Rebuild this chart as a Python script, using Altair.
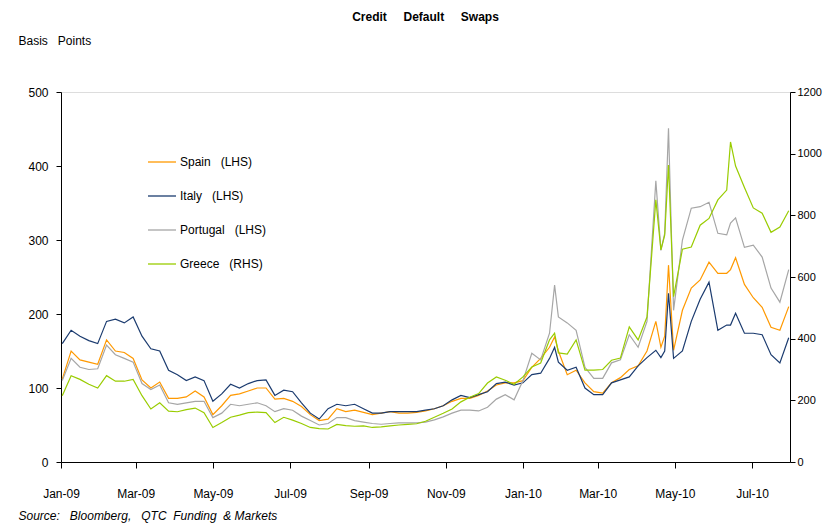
import altair as alt
import pandas as pd

FONT = "Liberation Sans Narrow, Arial Narrow, Liberation Sans, Arial, sans-serif"
NB = "\u00a0"

dates = [
    "2009-01-02", "2009-01-09", "2009-01-16", "2009-01-23", "2009-01-30",
    "2009-02-06", "2009-02-13", "2009-02-20", "2009-02-27",
    "2009-03-06", "2009-03-13", "2009-03-20", "2009-03-27",
    "2009-04-03", "2009-04-10", "2009-04-17", "2009-04-24",
    "2009-05-01", "2009-05-08", "2009-05-15", "2009-05-22", "2009-05-29",
    "2009-06-05", "2009-06-12", "2009-06-19", "2009-06-26",
    "2009-07-03", "2009-07-10", "2009-07-17", "2009-07-24", "2009-07-31",
    "2009-08-07", "2009-08-14", "2009-08-21", "2009-08-28",
    "2009-09-04", "2009-09-11", "2009-09-18", "2009-09-25",
    "2009-10-02", "2009-10-09", "2009-10-16", "2009-10-23", "2009-10-30",
    "2009-11-06", "2009-11-13", "2009-11-20", "2009-11-27",
    "2009-12-04", "2009-12-11", "2009-12-18", "2009-12-25",
    "2010-01-01", "2010-01-08", "2010-01-15", "2010-01-22", "2010-01-26", "2010-01-29",
    "2010-02-05", "2010-02-12", "2010-02-19", "2010-02-26",
    "2010-03-05", "2010-03-12", "2010-03-19", "2010-03-26",
    "2010-04-02", "2010-04-09", "2010-04-16", "2010-04-20", "2010-04-23", "2010-04-26", "2010-04-30",
    "2010-05-07", "2010-05-14", "2010-05-21", "2010-05-28",
    "2010-06-04", "2010-06-11", "2010-06-14", "2010-06-18", "2010-06-25",
    "2010-07-02", "2010-07-09", "2010-07-16", "2010-07-23", "2010-07-30",
]

spain = [
    112, 150, 138, 135, 132, 165, 150, 148, 140,
    111, 100, 108, 86, 86, 88, 96, 88,
    64, 76, 90, 92, 96, 100, 100, 85, 86,
    82, 75, 64, 56, 58, 72, 68, 70, 67,
    64, 66, 68, 66, 66, 67, 69, 72, 76,
    82, 86, 86, 90, 96, 104, 107, 107,
    110, 128, 140, 155, 169, 150,
    118, 124, 107, 95, 93, 107, 114, 125,
    130, 150, 190, 155, 170, 266, 151,
    205, 235, 246, 270, 255, 255, 260, 276, 240,
    222, 209, 182, 178, 210,
]

italy = [
    160, 178, 170, 164, 160, 190, 193, 188, 196,
    170, 153, 150, 124, 118, 110, 115, 110,
    82, 92, 105, 100, 106, 110, 111, 90, 97,
    95, 80, 66, 58, 72, 78, 76, 78, 72,
    66, 66, 68, 68, 68, 68, 70, 72, 76,
    84, 90, 87, 91, 95, 106, 108, 104,
    107, 118, 120, 140, 155, 135,
    124, 128, 100, 91, 91, 107, 111, 115,
    130, 141, 151, 141, 150, 228, 140,
    150, 190, 220, 243, 178, 185, 185, 201, 174,
    174, 172, 145, 134, 168,
]

portugal = [
    110, 140, 128, 125, 126, 158, 145, 140, 135,
    106, 98, 104, 80, 78, 80, 82, 82,
    60, 66, 78, 76, 78, 80, 76, 68, 72,
    70, 62, 56, 50, 52, 60, 60, 56, 54,
    52, 51, 52, 53, 53, 53, 54, 57, 61,
    66, 70, 70, 69, 74, 85, 91, 84,
    110, 147, 138, 174, 239, 196,
    188, 178, 128, 113, 113, 134, 138, 172,
    155, 190, 380, 286, 309, 451, 205,
    300, 343, 345, 351, 309, 307, 323, 330, 290,
    293, 277, 235, 216, 260,
]

greece = [
    215, 280, 268, 252, 240, 280, 262, 262, 268,
    215, 172, 192, 165, 163, 170, 175, 160,
    112, 128, 145, 152, 160, 162, 160, 128, 145,
    136, 125, 112, 108, 107, 122, 118, 116, 117,
    112, 114, 117, 120, 122, 124, 132, 145, 158,
    172, 195, 210, 222, 256, 276, 265, 252,
    276, 308, 321, 396, 418, 354,
    350, 396, 298, 298, 300, 330, 337, 438,
    396, 470, 850, 688, 736, 963, 536,
    690, 697, 768, 790, 850, 882, 1038, 960, 890,
    824, 807, 745, 762, 815,
]

names = [
    "Spain" + NB * 3 + "(LHS)",
    "Italy" + NB * 3 + "(LHS)",
    "Portugal" + NB * 3 + "(LHS)",
    "Greece" + NB * 3 + "(RHS)",
]
colors = ["#FF9900", "#1B3B6F", "#A6A6A6", "#99CC00"]

ts = [d + "T00:00:00" for d in dates]
n = len(ts)
left_df = pd.DataFrame({
    "date": ts * 3,
    "value": spain + italy + portugal,
    "series": [names[0]] * n + [names[1]] * n + [names[2]] * n,
})
right_df = pd.DataFrame({"date": ts, "value": greece, "series": [names[3]] * n})

x_ticks = [alt.DateTime(year=y, month=m, date=1) for (y, m) in
           [(2009, 1), (2009, 3), (2009, 5), (2009, 7), (2009, 9), (2009, 11),
            (2010, 1), (2010, 3), (2010, 5), (2010, 7)]]

x_enc = alt.X(
    "date:T",
    scale=alt.Scale(domain=[alt.DateTime(year=2009, month=1, date=1),
                            alt.DateTime(year=2010, month=7, date=31)]),
    axis=alt.Axis(
        values=x_ticks, format="%b-%y", labelFont=FONT, labelFontSize=12,
        labelColor="black", tickColor="black", domainColor="black", grid=False,
        tickSize=6, labelPadding=20, labelFlush=False, labelOverlap=False,
        title="Source:" + NB * 3 + "Bloomberg," + NB * 3 + "QTC" + NB * 2 + "Funding" + NB * 2 + "&" + NB + "Markets",
        titleFont=FONT, titleFontSize=12, titleFontStyle="italic", titleFontWeight="normal",
        titleColor="black", titleAnchor="start", titleAlign="left", titleX=-43, titleY=53,
        titleBaseline="middle",
    ),
)

color_enc = alt.Color(
    "series:N",
    scale=alt.Scale(domain=names, range=colors),
    legend=alt.Legend(
        orient="none", legendX=86, legendY=55, title=None,
        symbolType="stroke", symbolSize=784, symbolStrokeWidth=1.3,
        rowPadding=13, labelFont=FONT, labelFontSize=12, labelColor="black",
        labelOffset=3, padding=0,
    ),
)

left = alt.Chart(left_df).mark_line(strokeWidth=1.2).encode(
    x=x_enc,
    y=alt.Y(
        "value:Q",
        scale=alt.Scale(domain=[0, 500], nice=False),
        axis=alt.Axis(
            orient="left", values=[0, 100, 200, 300, 400, 500], grid=False,
            labelFont=FONT, labelFontSize=12, labelColor="black",
            tickColor="black", domainColor="black", tickSize=5, labelPadding=8,
            title="Basis" + NB * 3 + "Points", titleFont=FONT, titleFontSize=12,
            titleFontWeight="normal", titleColor="black", titleAngle=0,
            titleX=-43, titleY=-52, titleAlign="left", titleBaseline="middle",
        ),
    ),
    color=color_enc,
    detail="series:N",
)

right = alt.Chart(right_df).mark_line(strokeWidth=1.2).encode(
    x=alt.X("date:T"),
    y=alt.Y(
        "value:Q",
        scale=alt.Scale(domain=[0, 1200], nice=False),
        axis=alt.Axis(
            orient="right", values=[0, 200, 400, 600, 800, 1000, 1200], grid=False,
            format="d", labelFont=FONT, labelFontSize=11, labelColor="black",
            tickColor="black", domainColor="black", tickSize=5, labelPadding=2,
            title=None,
        ),
    ),
    color=alt.Color("series:N"),
)

chart = alt.layer(left, right).resolve_scale(y="independent").properties(
    width=729,
    height=370,
    autosize=alt.AutoSizeParams(type="none"),
    padding={"left": 53, "top": 84, "right": 34, "bottom": 62},
    title=alt.TitleParams(
        text="Credit" + NB * 5 + "Default" + NB * 5 + "Swaps",
        font=FONT, fontSize=12, fontWeight="bold", color="black",
        anchor="middle", offset=10,
    ),
).configure_view(stroke="black", strokeWidth=1).configure_axis(grid=False).configure(
    background="white"
)

chart.save("out.html", embed_options={"renderer": "svg", "actions": False})
